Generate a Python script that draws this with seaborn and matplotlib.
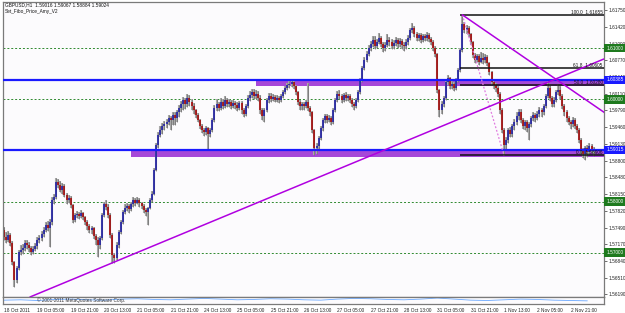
import numpy as np
import matplotlib
matplotlib.use("Agg")
import matplotlib.pyplot as plt
import matplotlib.transforms as mtransforms
import seaborn as sns

# ---------------- data ----------------
first_open = 1.5744
close = [
    1.5731, 1.5725, 1.5734, 1.5719, 1.5681, 1.5646, 1.5670, 1.5701, 1.5705, 1.5709, 1.5719, 1.5715, 1.5709, 1.5701, 1.5707, 1.5713,
    1.5725, 1.5729, 1.5737, 1.5744, 1.5754, 1.5748, 1.5760, 1.5803, 1.5809, 1.5838, 1.5832, 1.5823, 1.5830, 1.5813, 1.5803, 1.5807,
    1.5793, 1.5764, 1.5774, 1.5776, 1.5772, 1.5778, 1.5770, 1.5760, 1.5752, 1.5744, 1.5748, 1.5733, 1.5725, 1.5715, 1.5729, 1.5774,
    1.5795, 1.5789, 1.5774, 1.5734, 1.5695, 1.5689, 1.5715, 1.5740, 1.5760, 1.5780, 1.5787, 1.5791, 1.5785, 1.5795, 1.5803, 1.5797,
    1.5803, 1.5797, 1.5791, 1.5783, 1.5780, 1.5787, 1.5803, 1.5815, 1.5862, 1.5911, 1.5930, 1.5940, 1.5948, 1.5952, 1.5956, 1.5964,
    1.5960, 1.5970, 1.5964, 1.5975, 1.5983, 1.5991, 1.5999, 1.5991, 1.6003, 1.5995, 1.5987, 1.5979, 1.5970, 1.5960, 1.5948, 1.5940,
    1.5936, 1.5944, 1.5932, 1.5940, 1.5960, 1.5983, 1.5991, 1.5983, 1.5995, 1.5987, 1.5999, 1.5991, 1.5995, 1.5987, 1.5993, 1.5989,
    1.5983, 1.5993, 1.5979, 1.5972, 1.5987, 1.6003, 1.6009, 1.6014, 1.6007, 1.6011, 1.6003, 1.5979, 1.5968, 1.5979, 1.5999, 1.6007,
    1.6001, 1.6005, 1.5999, 1.6003, 1.5999, 1.6007, 1.6014, 1.6022, 1.6028, 1.6030, 1.6034, 1.6026, 1.6014, 1.5995, 1.5987, 1.5991,
    1.5987, 1.5995, 1.5983, 1.5975, 1.5940, 1.5905, 1.5909, 1.5924, 1.5944, 1.5960, 1.5968, 1.5960, 1.5964, 1.5956, 1.5979, 1.5999,
    1.6011, 1.6007, 1.5999, 1.6009, 1.6003, 1.6007, 1.5999, 1.5991, 1.5987, 1.5999, 1.6014, 1.6038, 1.6062, 1.6077, 1.6089, 1.6101,
    1.6109, 1.6116, 1.6105, 1.6113, 1.6120, 1.6109, 1.6101, 1.6107, 1.6116, 1.6113, 1.6105, 1.6111, 1.6116, 1.6109, 1.6115, 1.6107,
    1.6105, 1.6113, 1.6120, 1.6136, 1.6140, 1.6128, 1.6120, 1.6126, 1.6116, 1.6124, 1.6120, 1.6126, 1.6118, 1.6113, 1.6101, 1.6089,
    1.6018, 1.5979, 1.5991, 1.6003, 1.6034, 1.6042, 1.6026, 1.6030, 1.6022, 1.6038, 1.6058, 1.6097, 1.6148, 1.6136, 1.6140, 1.6128,
    1.6113, 1.6087, 1.6077, 1.6085, 1.6073, 1.6081, 1.6077, 1.6083, 1.6071, 1.6054, 1.6034, 1.6028, 1.6022, 1.6011, 1.5979, 1.5940,
    1.5911, 1.5920, 1.5940, 1.5932, 1.5948, 1.5956, 1.5968, 1.5975, 1.5960, 1.5948, 1.5956, 1.5944, 1.5952, 1.5964, 1.5970, 1.5964,
    1.5972, 1.5979, 1.5975, 1.5987, 1.6007, 1.6022, 1.6003, 1.5991, 1.5999, 1.6014, 1.6018, 1.6007, 1.5987, 1.5975, 1.5964, 1.5956,
    1.5952, 1.5960, 1.5948, 1.5940, 1.5920, 1.5901, 1.5893, 1.5905, 1.5897, 1.5909, 1.59016, 1.59024,
]
high = [
    1.5750, 1.5740, 1.5742, 1.5738, 1.5722, 1.5684, 1.5674, 1.5705, 1.5715, 1.5716, 1.5725, 1.5724, 1.5720, 1.5712, 1.5712, 1.5718,
    1.5730, 1.5735, 1.5742, 1.5750, 1.5760, 1.5762, 1.5766, 1.5808, 1.5815, 1.5846, 1.5845, 1.5840, 1.5836, 1.5834, 1.5816, 1.5812,
    1.5810, 1.5795, 1.5778, 1.5782, 1.5780, 1.5784, 1.5780, 1.5772, 1.5764, 1.5756, 1.5752, 1.5750, 1.5737, 1.5730, 1.5733, 1.5778,
    1.5799, 1.5803, 1.5795, 1.5778, 1.5738, 1.5700, 1.5720, 1.5744, 1.5764, 1.5784, 1.5795, 1.5797, 1.5795, 1.5800, 1.5809, 1.5807,
    1.5808, 1.5806, 1.5800, 1.5795, 1.5787, 1.5790, 1.5806, 1.5820, 1.5866, 1.5915, 1.5936, 1.5948, 1.5954, 1.5958, 1.5962, 1.5970,
    1.5968, 1.5976, 1.5975, 1.5980, 1.5990, 1.5997, 1.6005, 1.6003, 1.6010, 1.6008, 1.6000, 1.5992, 1.5982, 1.5973, 1.5962, 1.5952,
    1.5944, 1.5948, 1.5946, 1.5944, 1.5964, 1.5989, 1.6000, 1.5995, 1.6003, 1.6001, 1.6006, 1.6003, 1.6001, 1.5999, 1.5998, 1.5997,
    1.5995, 1.5997, 1.5996, 1.5983, 1.5991, 1.6009, 1.6016, 1.6020, 1.6020, 1.6018, 1.6016, 1.6008, 1.5984, 1.5983, 1.6003, 1.6013,
    1.6012, 1.6010, 1.6008, 1.6008, 1.6007, 1.6011, 1.6018, 1.6026, 1.6032, 1.6036, 1.6038, 1.6036, 1.6028, 1.6016, 1.5999, 1.5995,
    1.5995, 1.5999, 1.6032, 1.5987, 1.5977, 1.5942, 1.5914, 1.5928, 1.5948, 1.5964, 1.5972, 1.5972, 1.5969, 1.5968, 1.5983, 1.6003,
    1.6016, 1.6018, 1.6010, 1.6013, 1.6014, 1.6010, 1.6011, 1.6003, 1.5995, 1.6003, 1.6018, 1.6042, 1.6066, 1.6083, 1.6095, 1.6107,
    1.6115, 1.6124, 1.6124, 1.6118, 1.6130, 1.6124, 1.6113, 1.6112, 1.6128, 1.6122, 1.6118, 1.6116, 1.6122, 1.6120, 1.6120, 1.6118,
    1.6113, 1.6118, 1.6126, 1.6140, 1.6150, 1.6144, 1.6132, 1.6130, 1.6130, 1.6128, 1.6128, 1.6132, 1.6130, 1.6122, 1.6116, 1.6104,
    1.6091, 1.6020, 1.5997, 1.6007, 1.6038, 1.6048, 1.6044, 1.6036, 1.6034, 1.6042, 1.6062, 1.6101, 1.61655, 1.6152, 1.6146, 1.6144,
    1.6130, 1.6115, 1.6091, 1.6089, 1.6089, 1.6093, 1.6091, 1.6089, 1.6087, 1.6073, 1.6056, 1.6038, 1.6032, 1.6026, 1.6014, 1.5983,
    1.5944, 1.5926, 1.5944, 1.5946, 1.5952, 1.5962, 1.5975, 1.5981, 1.5981, 1.5964, 1.5960, 1.5960, 1.5956, 1.5968, 1.5975, 1.5974,
    1.5978, 1.5985, 1.5983, 1.5991, 1.6011, 1.6036, 1.6030, 1.6007, 1.6005, 1.6018, 1.6030, 1.6026, 1.6011, 1.5991, 1.5979, 1.5968,
    1.5960, 1.5966, 1.5964, 1.5952, 1.5944, 1.5924, 1.5905, 1.5909, 1.5911, 1.5914, 1.5913, 1.59067,
]
low = [
    1.5725, 1.5718, 1.5720, 1.5712, 1.5675, 1.5633, 1.5640, 1.5665, 1.5696, 1.5698, 1.5704, 1.5708, 1.5702, 1.5696, 1.5698, 1.5703,
    1.5708, 1.5718, 1.5722, 1.5730, 1.5740, 1.5742, 1.5711, 1.5755, 1.5795, 1.5805, 1.5826, 1.5818, 1.5815, 1.5808, 1.5795, 1.5798,
    1.5788, 1.5758, 1.5760, 1.5768, 1.5766, 1.5768, 1.5764, 1.5754, 1.5744, 1.5738, 1.5736, 1.5727, 1.5715, 1.5692, 1.5708, 1.5725,
    1.5770, 1.5784, 1.5768, 1.5728, 1.5680, 1.5680, 1.5686, 1.5710, 1.5736, 1.5756, 1.5776, 1.5782, 1.5778, 1.5782, 1.5790, 1.5791,
    1.5795, 1.5790, 1.5785, 1.5778, 1.5772, 1.5754, 1.5785, 1.5799, 1.5813, 1.5860, 1.5905, 1.5926, 1.5932, 1.5940, 1.5944, 1.5950,
    1.5940, 1.5950, 1.5950, 1.5955, 1.5966, 1.5975, 1.5980, 1.5982, 1.5985, 1.5988, 1.5980, 1.5972, 1.5964, 1.5955, 1.5942, 1.5934,
    1.5928, 1.5930, 1.5901, 1.5926, 1.5936, 1.5956, 1.5978, 1.5977, 1.5980, 1.5981, 1.5983, 1.5985, 1.5985, 1.5981, 1.5983, 1.5982,
    1.5977, 1.5979, 1.5972, 1.5966, 1.5968, 1.5983, 1.5996, 1.6002, 1.6000, 1.6001, 1.5997, 1.5972, 1.5960, 1.5955, 1.5975, 1.5993,
    1.5995, 1.5996, 1.5994, 1.5995, 1.5993, 1.5995, 1.6003, 1.6010, 1.6018, 1.6022, 1.6024, 1.6020, 1.6008, 1.5989, 1.5979, 1.5980,
    1.5979, 1.5983, 1.5977, 1.5968, 1.5934, 1.5891, 1.5893, 1.5903, 1.5920, 1.5938, 1.5954, 1.5954, 1.5956, 1.5950, 1.5952, 1.5975,
    1.5995, 1.6000, 1.5993, 1.5995, 1.5997, 1.5997, 1.5993, 1.5985, 1.5979, 1.5983, 1.5995, 1.6010, 1.6034, 1.6058, 1.6073, 1.6085,
    1.6095, 1.6103, 1.6099, 1.6101, 1.6108, 1.6103, 1.6093, 1.6095, 1.6103, 1.6105, 1.6099, 1.6099, 1.6105, 1.6101, 1.6103, 1.6099,
    1.6095, 1.6099, 1.6107, 1.6116, 1.6130, 1.6122, 1.6114, 1.6115, 1.6110, 1.6112, 1.6114, 1.6115, 1.6112, 1.6107, 1.6095, 1.6083,
    1.6012, 1.5966, 1.5972, 1.5985, 1.5999, 1.6028, 1.6020, 1.6020, 1.6016, 1.6018, 1.6034, 1.6054, 1.6093, 1.6130, 1.6128, 1.6122,
    1.6107, 1.6081, 1.6071, 1.6073, 1.6067, 1.6071, 1.6069, 1.6071, 1.6065, 1.6048, 1.6028, 1.6020, 1.6014, 1.6005, 1.5972, 1.5934,
    1.5891, 1.5903, 1.5914, 1.5926, 1.5926, 1.5940, 1.5950, 1.5960, 1.5954, 1.5942, 1.5940, 1.5936, 1.5920, 1.5946, 1.5958, 1.5956,
    1.5960, 1.5966, 1.5966, 1.5970, 1.5983, 1.6003, 1.5997, 1.5985, 1.5985, 1.5995, 1.6008, 1.6001, 1.5981, 1.5968, 1.5956, 1.5950,
    1.5942, 1.5946, 1.5942, 1.5934, 1.5914, 1.5893, 1.5885, 1.5881, 1.5887, 1.5891, 1.5895, 1.58884,
]
time_labels = ["18 Oct 2011", "19 Oct 05:00", "19 Oct 21:00", "20 Oct 13:00", "21 Oct 05:00",
               "21 Oct 21:00", "24 Oct 13:00", "25 Oct 05:00", "25 Oct 21:00", "26 Oct 13:00",
               "27 Oct 05:00", "27 Oct 21:00", "28 Oct 13:00", "31 Oct 05:00", "31 Oct 21:00",
               "1 Nov 13:00", "2 Nov 05:00", "2 Nov 21:00"]
price_ticks = [1.61750, 1.61420, 1.61090, 1.60770, 1.60440, 1.60110, 1.59790, 1.59460, 1.59130,
               1.58800, 1.58480, 1.58150, 1.57820, 1.57490, 1.57170, 1.56840, 1.56510, 1.56190]
green_levels = [1.61000, 1.60000, 1.59000, 1.58000, 1.57000]
green_labels = [1.61000, 1.60000, 1.58000, 1.57000]
blue_levels = [1.60385, 1.59015]
fibo_pct = ["100.0", "61.8", "50.0", "0.0"]
fibo_price = [1.61655, 1.60605, 1.60280, 1.58906]
band_top = (121, 1.60260, 1.60385)     # start bar, lower, upper
band_bot = (61, 1.58880, 1.59015)
trend_up_bars = [52, 266]
trend_up_price = [1.5680, 1.6042]
trend_dn_bars = [220, 289]
trend_dn_price = [1.61655, 1.5972]
fibo_diag_bars = [220, 240]
fibo_diag_price = [1.61655, 1.58906]
osc = [0.55, 0.6, 0.5, 0.65, 0.7, 0.6, 0.55, 0.7, 0.75, 0.65, 0.6, 0.7, 0.8, 0.7, 0.6, 0.65, 0.75, 0.7,
       0.6, 0.55, 0.7, 0.8, 0.75, 0.65, 0.6, 0.7, 0.85, 0.7, 0.55, 0.5, 0.6, 0.7, 0.65, 0.55, 0.5, 0.45]

# ---------------- style ----------------
sns.set_style("white")
FONT = ['Liberation Sans', 'DejaVu Sans']
plt.rcParams['font.family'] = FONT
FS = 3.4

W, H = 625, 313
fig = plt.figure(figsize=(W / 100, H / 100), dpi=100)
fig.patch.set_facecolor('white')


def rect(x0, y0, x1, y1):
    return [x0 / W, 1 - y1 / H, (x1 - x0) / W, (y1 - y0) / H]


ax = fig.add_axes(rect(3, 2, 604, 297))
ax2 = fig.add_axes(rect(3, 297, 604, 304), sharex=ax)
bg = '#fcfbfd'
for a in (ax, ax2):
    a.set_facecolor(bg)
    for s in a.spines.values():
        s.set_color('#7a7a7a')
        s.set_linewidth(0.9)

XMIN, XMAX = -0.5, 288.0
ax.set_xlim(XMIN, XMAX)
ax.set_ylim(1.56131, 1.61907)

c = np.array(close)
h = np.array(high)
l = np.array(low)
o = np.concatenate([[first_open], c[:-1]])
h = np.maximum(h, np.maximum(o, c))
l = np.minimum(l, np.minimum(o, c))
idx = np.arange(len(c))
up = c >= o

# bands and levels (background)
ax.fill_between([band_top[0], XMAX], band_top[1], band_top[2], color='#a648d8', lw=0, zorder=1)
ax.fill_between([band_bot[0], XMAX], band_bot[1], band_bot[2], color='#a648d8', lw=0, zorder=1)
for lv in green_levels:
    ax.axhline(lv, color='#2f8a2f', lw=0.7, ls=(0, (2, 2)), zorder=1.5)

# candles
ax.vlines(idx, l, h, color='#a9a9a9', lw=1.5, zorder=2)
ax.vlines(idx, l, h, color='#6e6e6e', lw=0.5, zorder=2.1)
ax.vlines(idx[up], o[up], c[up], color='#1818a8', lw=1.1, zorder=2.5)
ax.vlines(idx[~up], c[~up], o[~up], color='#a80000', lw=1.1, zorder=2.5)

# horizontal blue lines
for lv in blue_levels:
    ax.axhline(lv, color='#1a1aff', lw=1.6, zorder=3)

# fibo levels
for pct, pr in zip(fibo_pct, fibo_price):
    ax.hlines(pr, 219, XMAX, color='#111111', lw=1.1, zorder=3)
    ax.text(XMAX - 0.6, pr + 0.00005, f"{pct}  {pr:.5f}", fontsize=FS, ha='right', va='bottom',
            color='#111111', zorder=4)

# trend lines via seaborn
sns.lineplot(x=fibo_diag_bars, y=fibo_diag_price, ax=ax, color='#e07ae0', lw=0.9,
             linestyle=(0, (1.5, 1.5)), zorder=3.5)
sns.lineplot(x=trend_dn_bars, y=trend_dn_price, ax=ax, color='#b000e0', lw=1.1, zorder=3.6)
ax.axline((trend_up_bars[0], trend_up_price[0]), (trend_up_bars[1], trend_up_price[1]),
          color='#b000e0', lw=1.1, zorder=3.6)

# right price scale
ax.yaxis.tick_right()
ax.set_yticks(price_ticks)
ax.set_yticklabels([f"{p:.5f}" for p in price_ticks])
ax.tick_params(axis='y', which='both', direction='out', length=2, width=0.6, color='#555555',
               labelsize=FS, pad=1.2, labelcolor='#222222')
ax.tick_params(axis='x', which='both', bottom=False, labelbottom=False)
ax.set_xlabel('')
ax.set_ylabel('')

blend = mtransforms.blended_transform_factory(ax.transAxes, ax.transData)
for lv in green_labels:
    ax.text(1.0035, lv, f"{lv:.5f}", transform=blend, fontsize=FS, ha='left', va='center',
            color='white', zorder=6, clip_on=False,
            bbox=dict(boxstyle='square,pad=0.35', fc='#1e7a1e', ec='none'))
for lv in blue_levels:
    ax.text(1.0035, lv, f"{lv:.5f}", transform=blend, fontsize=FS, ha='left', va='center',
            color='white', zorder=6, clip_on=False,
            bbox=dict(boxstyle='square,pad=0.35', fc='#1a1aff', ec='none'))

# indicator subwindow
sns.lineplot(x=np.arange(0, 8 * len(osc), 8), y=osc, ax=ax2, color='#6aa8ff', lw=0.6)
ax2.set_ylim(0, 1)
ax2.set_yticks([])
ax2.set_ylabel('')
ax2.set_xticks(np.arange(0, 16 * len(time_labels), 16))
ax2.set_xticklabels(time_labels, ha='left')
ax2.tick_params(axis='x', direction='out', length=2, width=0.6, color='#555555',
                labelsize=FS, pad=1.2, labelcolor='#222222')
ax2.set_xlim(XMIN, XMAX)
ax2.set_xlabel('')
fig.text(37 / W, 1 - 300 / H, "\u00a9 2001-2011 MetaQuotes Software Corp.", fontsize=FS,
         va='center', ha='left', color='#333333')

# header text
fig.text(5 / W, 1 - 5 / H, "GBPUSD,H1  1.59016 1.59067 1.58884 1.59024", fontsize=FS,
         va='center', ha='left', color='#111111')
fig.text(5 / W, 1 - 12 / H, "Set_Fibo_Price_Amy_V2", fontsize=FS, va='center', ha='left',
         color='#111111')

fig.savefig("out.png", dpi=100, facecolor='white')
